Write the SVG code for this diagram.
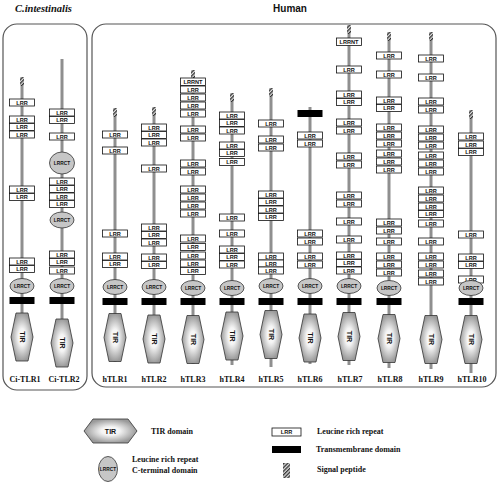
<svg xmlns="http://www.w3.org/2000/svg" xmlns:xlink="http://www.w3.org/1999/xlink" width="500" height="485" viewBox="0 0 500 485">
<style>
.panel{fill:none;stroke:#555;stroke-width:1.2}
.stem{stroke:#8f8f8f;stroke-width:3}
.box{fill:#fff;stroke:#111;stroke-width:0.8}
.bt{font-family:"Liberation Sans",Arial,sans-serif;font-size:5.6px;font-weight:bold;text-anchor:middle;fill:#111}
.ct{font-family:"Liberation Sans",Arial,sans-serif;font-size:4.8px;font-weight:bold;text-anchor:middle;fill:#111}
.ell{fill:#c6c6c6;stroke:#333;stroke-width:0.8}
.tirp{fill:url(#tirg);stroke:#333;stroke-width:0.8}
.tirt{font-family:"Liberation Sans",Arial,sans-serif;font-size:7px;font-weight:bold;text-anchor:middle;fill:#111}
.lab{font-family:"Liberation Serif","Times New Roman",serif;font-size:8px;font-weight:bold;text-anchor:middle;fill:#111}
.leg{font-family:"Liberation Serif","Times New Roman",serif;font-size:8px;font-weight:bold;fill:#111}
.title{font-family:"Liberation Serif","Times New Roman",serif;font-size:10.5px;font-weight:bold;font-style:italic;fill:#111}
.human{font-family:"Liberation Sans",Arial,sans-serif;font-size:10px;font-weight:bold;text-anchor:middle;fill:#111}
</style>
<defs>
<radialGradient id="tirg" cx="50%" cy="50%" r="50%">
<stop offset="0" stop-color="#fff"/>
<stop offset="0.35" stop-color="#f4f4f4"/>
<stop offset="1" stop-color="#9a9a9a"/>
</radialGradient>
<pattern id="hatch" width="2.6" height="2.6" patternUnits="userSpaceOnUse" patternTransform="rotate(45)">
<rect width="2.6" height="2.6" fill="#ddd"/>
<rect width="1.3" height="2.6" fill="#333"/>
</pattern>
<g id="lrr"><rect class="box" x="-12.5" y="0" width="25" height="7"/><text class="bt" x="0" y="5.6">LRR</text></g>
<g id="nt"><rect class="box" x="-12.5" y="0" width="25" height="7.5"/><text class="bt" x="0" y="5.8">LRRNT</text></g>
<g id="ct"><ellipse class="ell" cx="0" cy="0" rx="12" ry="7.5"/><text class="ct" x="0" y="1.7">LRRCT</text></g>
<rect id="tm" x="-12.5" y="0" width="25" height="7" fill="#000"/>
<rect id="sp" x="-2" y="0" width="4" height="9" fill="url(#hatch)"/>
<g id="tir"><polygon class="tirp" points="-6,-24 6,-24 11,0 6,24 -6,24 -11,0"/><text class="tirt" transform="rotate(90)" x="0" y="2.4">TIR</text></g>
</defs>
<rect width="500" height="485" fill="#fff"/>
<text class="title" x="15" y="12">C.intestinalis</text>
<text class="human" x="290" y="12">Human</text>
<rect class="panel" x="3" y="24" width="84" height="366" rx="14"/>
<rect class="panel" x="92" y="24" width="404" height="363" rx="14"/>

<g id="ci-tlr1">
<line class="stem" x1="22" y1="77" x2="22" y2="361"/>
<use href="#sp" x="22" y="77"/>
<use href="#lrr" x="22" y="99"/><use href="#lrr" x="22" y="116"/><use href="#lrr" x="22" y="123.5"/><use href="#lrr" x="22" y="131"/>
<use href="#lrr" x="22" y="186"/><use href="#lrr" x="22" y="193.5"/>
<use href="#lrr" x="22" y="258"/><use href="#lrr" x="22" y="265.5"/>
<use href="#ct" x="22" y="286"/><use href="#tm" x="22" y="297"/>
<use href="#tir" x="22" y="337"/>
<text class="lab" x="25" y="382">Ci-TLR1</text>
</g>

<g id="ci-tlr2">
<line class="stem" x1="62" y1="59" x2="62" y2="366"/>
<use href="#lrr" x="62" y="109"/><use href="#lrr" x="62" y="116.5"/><use href="#lrr" x="62" y="133"/>
<ellipse class="ell" cx="62" cy="163" rx="12.5" ry="11"/><text class="ct" x="62" y="164.7">LRRCT</text>
<use href="#lrr" x="62" y="178"/><use href="#lrr" x="62" y="185.5"/><use href="#lrr" x="62" y="193"/><use href="#lrr" x="62" y="200.5"/>
<ellipse class="ell" cx="62" cy="220" rx="12" ry="8"/><text class="ct" x="62" y="221.7">LRRCT</text>
<use href="#lrr" x="62" y="251"/><use href="#lrr" x="62" y="258.5"/><use href="#lrr" x="62" y="267"/>
<use href="#ct" x="62" y="286"/><use href="#tm" x="62" y="297"/>
<use href="#tir" x="62" y="343"/>
<text class="lab" x="64" y="382">Ci-TLR2</text>
</g>

<g id="htlr1">
<line class="stem" x1="115" y1="108" x2="115" y2="362"/>
<use href="#sp" x="115" y="108"/>
<use href="#lrr" x="115" y="131"/><use href="#lrr" x="115" y="147"/>
<use href="#lrr" x="115" y="230"/><use href="#lrr" x="115" y="253"/><use href="#lrr" x="115" y="260.5"/>
<use href="#ct" x="115" y="287"/><use href="#tm" x="115" y="298"/>
<use href="#tir" x="115" y="337.5"/>
<text class="lab" x="115" y="382">hTLR1</text>
</g>

<g id="htlr2">
<line class="stem" x1="154" y1="107" x2="154" y2="363"/>
<use href="#sp" x="154" y="107"/>
<use href="#lrr" x="154" y="124"/><use href="#lrr" x="154" y="131.5"/><use href="#lrr" x="154" y="139"/>
<use href="#lrr" x="154" y="165"/>
<use href="#lrr" x="154" y="224"/><use href="#lrr" x="154" y="231.5"/><use href="#lrr" x="154" y="239"/>
<use href="#lrr" x="154" y="254"/><use href="#lrr" x="154" y="261.5"/>
<use href="#ct" x="154" y="287"/><use href="#tm" x="154" y="298"/>
<use href="#tir" x="154" y="339"/>
<text class="lab" x="154" y="382">hTLR2</text>
</g>

<g id="htlr3">
<line class="stem" x1="193" y1="70" x2="193" y2="364"/>
<use href="#sp" x="193" y="70"/>
<use href="#nt" x="193" y="78"/>
<use href="#lrr" x="193" y="86"/><use href="#lrr" x="193" y="94"/><use href="#lrr" x="193" y="102"/><use href="#lrr" x="193" y="110"/>
<use href="#lrr" x="193" y="126"/><use href="#lrr" x="193" y="134"/>
<use href="#lrr" x="193" y="160"/><use href="#lrr" x="193" y="168"/>
<use href="#lrr" x="193" y="186"/><use href="#lrr" x="193" y="194"/><use href="#lrr" x="193" y="202"/><use href="#lrr" x="193" y="210"/>
<use href="#lrr" x="193" y="235"/><use href="#lrr" x="193" y="243.5"/><use href="#lrr" x="193" y="252"/><use href="#lrr" x="193" y="260"/><use href="#lrr" x="193" y="267.5"/>
<use href="#ct" x="193" y="288"/><use href="#tm" x="193" y="298"/>
<use href="#tir" x="193" y="339.5"/>
<text class="lab" x="193" y="382">hTLR3</text>
</g>

<g id="htlr4">
<line class="stem" x1="232" y1="93" x2="232" y2="365"/>
<use href="#sp" x="232" y="93"/>
<use href="#lrr" x="232" y="112"/><use href="#lrr" x="232" y="119.5"/><use href="#lrr" x="232" y="127"/>
<use href="#lrr" x="232" y="142"/><use href="#lrr" x="232" y="149.5"/><use href="#lrr" x="232" y="158.5"/>
<use href="#lrr" x="232" y="214"/><use href="#lrr" x="232" y="230"/>
<use href="#lrr" x="232" y="246"/><use href="#lrr" x="232" y="253.5"/><use href="#lrr" x="232" y="261"/>
<use href="#ct" x="232" y="288"/><use href="#tm" x="232" y="298"/>
<use href="#tir" x="232" y="336"/>
<text class="lab" x="232" y="382">hTLR4</text>
</g>

<g id="htlr5">
<line class="stem" x1="271" y1="88" x2="271" y2="367"/>
<use href="#sp" x="271" y="88"/>
<use href="#lrr" x="271" y="120"/><use href="#lrr" x="271" y="136"/><use href="#lrr" x="271" y="144"/>
<use href="#lrr" x="271" y="191"/><use href="#lrr" x="271" y="198.5"/><use href="#lrr" x="271" y="206"/><use href="#lrr" x="271" y="213.5"/>
<use href="#lrr" x="271" y="253"/><use href="#lrr" x="271" y="260"/><use href="#lrr" x="271" y="267"/>
<use href="#ct" x="271" y="286"/><use href="#tm" x="271" y="298"/>
<use href="#tir" x="271" y="334.5"/>
<text class="lab" x="271" y="382">hTLR5</text>
</g>

<g id="htlr6">
<line class="stem" x1="310" y1="107" x2="310" y2="364"/>
<use href="#tm" x="310" y="110"/>
<use href="#lrr" x="310" y="132"/><use href="#lrr" x="310" y="140"/>
<use href="#lrr" x="310" y="230"/><use href="#lrr" x="310" y="238"/>
<use href="#lrr" x="310" y="253"/><use href="#lrr" x="310" y="261"/>
<use href="#ct" x="310" y="286"/><use href="#tm" x="310" y="298"/>
<use href="#tir" x="310" y="338"/>
<text class="lab" x="310" y="382">hTLR6</text>
</g>

<g id="htlr7">
<line class="stem" x1="349" y1="25" x2="349" y2="365"/>
<use href="#sp" x="349" y="25"/>
<use href="#nt" x="349" y="38"/>
<use href="#lrr" x="349" y="66"/>
<use href="#lrr" x="349" y="91"/><use href="#lrr" x="349" y="98.5"/>
<use href="#lrr" x="349" y="119"/><use href="#lrr" x="349" y="127"/>
<use href="#lrr" x="349" y="153"/><use href="#lrr" x="349" y="161"/>
<use href="#lrr" x="349" y="192"/><use href="#lrr" x="349" y="200"/>
<use href="#lrr" x="349" y="218"/><use href="#lrr" x="349" y="236"/>
<use href="#lrr" x="349" y="252"/><use href="#lrr" x="349" y="259.5"/><use href="#lrr" x="349" y="267"/>
<use href="#ct" x="349" y="286"/><use href="#tm" x="349" y="298"/>
<use href="#tir" x="349" y="336.5"/>
<text class="lab" x="350" y="382">hTLR7</text>
</g>

<g id="htlr8">
<line class="stem" x1="389" y1="32" x2="389" y2="368"/>
<use href="#sp" x="389" y="32"/>
<use href="#lrr" x="389" y="52"/><use href="#lrr" x="389" y="71"/>
<use href="#lrr" x="389" y="97"/><use href="#lrr" x="389" y="104.5"/>
<use href="#lrr" x="389" y="124"/><use href="#lrr" x="389" y="132"/><use href="#lrr" x="389" y="140"/>
<use href="#lrr" x="389" y="150"/><use href="#lrr" x="389" y="158"/><use href="#lrr" x="389" y="166"/>
<use href="#lrr" x="389" y="219"/><use href="#lrr" x="389" y="227"/><use href="#lrr" x="389" y="238"/>
<use href="#lrr" x="389" y="253"/><use href="#lrr" x="389" y="261"/><use href="#lrr" x="389" y="269"/>
<use href="#ct" x="389" y="288"/><use href="#tm" x="389" y="298"/>
<use href="#tir" x="389" y="338.5"/>
<text class="lab" x="390" y="382">hTLR8</text>
</g>

<g id="htlr9">
<line class="stem" x1="431" y1="32" x2="431" y2="369"/>
<use href="#sp" x="431" y="32"/>
<use href="#lrr" x="431" y="55"/><use href="#lrr" x="431" y="74"/>
<use href="#lrr" x="431" y="98"/><use href="#lrr" x="431" y="106"/>
<use href="#lrr" x="431" y="126"/><use href="#lrr" x="431" y="134"/><use href="#lrr" x="431" y="142"/>
<use href="#lrr" x="431" y="152"/><use href="#lrr" x="431" y="160"/><use href="#lrr" x="431" y="168"/>
<use href="#lrr" x="431" y="187"/><use href="#lrr" x="431" y="195"/><use href="#lrr" x="431" y="203"/><use href="#lrr" x="431" y="210.5"/>
<use href="#lrr" x="431" y="220"/><use href="#lrr" x="431" y="238"/>
<use href="#lrr" x="431" y="253"/><use href="#lrr" x="431" y="261"/><use href="#lrr" x="431" y="270"/><use href="#lrr" x="431" y="278"/>
<use href="#tir" x="431" y="339.5"/>
<text class="lab" x="431" y="382">hTLR9</text>
</g>

<g id="htlr10">
<line class="stem" x1="471" y1="110" x2="471" y2="373"/>
<use href="#sp" x="471" y="110"/>
<use href="#lrr" x="471" y="133"/><use href="#lrr" x="471" y="141"/><use href="#lrr" x="471" y="148.5"/>
<use href="#lrr" x="471" y="231"/>
<use href="#lrr" x="471" y="254"/><use href="#lrr" x="471" y="261.5"/><use href="#lrr" x="471" y="276"/>
<use href="#ct" x="471" y="288"/><use href="#tm" x="471" y="298"/>
<use href="#tir" x="471" y="339.5"/>
<text class="lab" x="472" y="382">hTLR10</text>
</g>

<g id="legend">
<polygon class="tirp" points="84,431 93,419 128,419 137,431 128,443 93,443"/>
<text class="tirt" x="110.5" y="434" font-size="8">TIR</text>
<text class="leg" x="151" y="434">TIR domain</text>
<ellipse class="ell" cx="108" cy="469" rx="9.5" ry="12.5"/>
<text class="ct" x="108" y="470.7">LRRCT</text>
<text class="leg" x="132" y="462">Leucine rich repeat</text>
<text class="leg" x="132" y="473">C-terminal domain</text>
<rect class="box" x="272" y="428" width="29" height="8"/>
<text class="bt" x="286.5" y="434.2" font-size="6.2">LRR</text>
<text class="leg" x="317" y="434">Leucine rich repeat</text>
<rect x="272" y="446" width="29" height="7" fill="#000"/>
<text class="leg" x="316" y="452">Transmembrane domain</text>
<rect x="283" y="463" width="7" height="15" fill="url(#hatch)"/>
<text class="leg" x="317" y="472">Signal peptide</text>
</g>
</svg>
